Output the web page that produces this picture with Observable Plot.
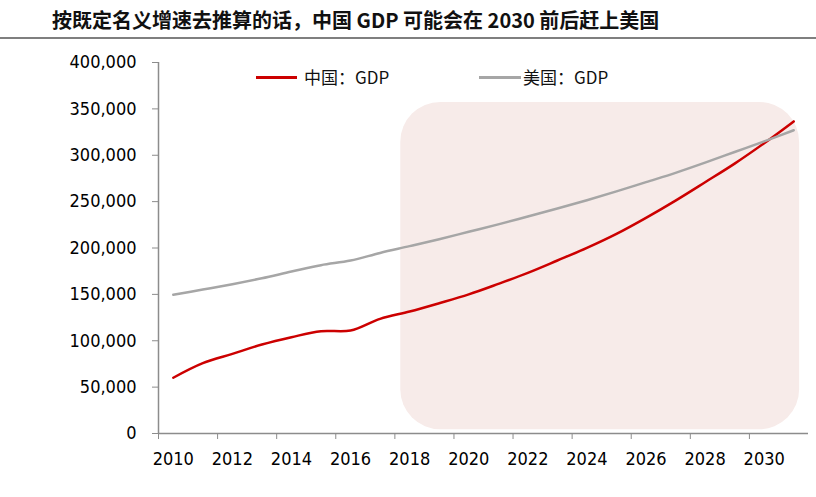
<!DOCTYPE html>
<html><head><meta charset="utf-8">
<script src="https://cdn.jsdelivr.net/npm/d3@7"></script>
<script src="https://cdn.jsdelivr.net/npm/@observablehq/plot@0.6"></script>
<style>
html,body{margin:0;padding:0;background:#fff}
body{width:816px;height:497px;overflow:hidden;position:relative}
#title{position:absolute;left:0;top:0;width:816px;height:37px;border-bottom:2px solid #7f7f7f}
#title span{position:absolute;left:52px;top:6px;font-family:"Noto Sans CJK SC";font-weight:bold;font-size:20px;line-height:27px;color:#111;white-space:nowrap}
#chart{position:absolute;left:0;top:40px}
.legline{position:absolute;height:3px}
.legtext{position:absolute;font-family:"Noto Sans CJK SC";font-size:17px;line-height:22px;color:#111;white-space:nowrap}
</style>
</head><body>
<div id="title"><span>按既定名义增速去推算的话，中国 GDP 可能会在 2030 前后赶上美国</span></div>
<div id="chart"></div>
<div id="legend"></div>
<script>
const years = [2010,2011,2012,2013,2014,2015,2016,2017,2018,2019,2020,2021,2022,2023,2024,2025,2026,2027,2028,2029,2030,2031];
const chinaGDP = [60100,75800,85900,95900,103800,110300,111000,123600,131500,140500,150000,161300,173200,186500,200100,215200,232500,251100,270900,291000,313000,336500];
const usGDP = [149500,155200,161000,167400,174600,181500,186500,194700,202000,209500,217500,225500,234000,242500,251500,261000,271000,281000,292000,303500,315000,327000];
const seriesNames = ["中国：GDP","美国：GDP"];
const seriesColors = ["#cc0000","#a6a6a6"];
const xTickLabels = [2010,2012,2014,2016,2018,2020,2022,2024,2026,2028,2030];
const yTicks = [0,50000,100000,150000,200000,250000,300000,350000,400000];
const xDomain = [2009.5, 2031.5];
const yDomain = [0, 400000];
const highlight = [{x1: 2017.7, x2: 2031.2, y1: 4000, y2: 357000}];

const rows = years.map((year, i) => ({year, value: chinaGDP[i], series: seriesNames[0]}))
  .concat(years.map((year, i) => ({year, value: usGDP[i], series: seriesNames[1]})));

const axisColor = "#8c8c8c";
const tickFont = "DejaVu Sans Condensed";

const chart = Plot.plot({
  width: 816, height: 457,
  marginTop: 22, marginBottom: 64, marginLeft: 158, marginRight: 8,
  style: {fontFamily: tickFont, fontSize: "18px", color: "#000", background: "transparent", overflow: "visible"},
  x: {domain: xDomain, axis: null},
  y: {domain: yDomain, axis: null},
  color: {domain: seriesNames, range: seriesColors},
  marks: [
    Plot.rect(highlight, {x1: "x1", x2: "x2", y1: "y1", y2: "y2", fill: "#f7ebe9", rx: 40}),
    Plot.ruleX([xDomain[0]], {stroke: axisColor, strokeWidth: 1.5}),
    Plot.ruleY([yDomain[0]], {stroke: axisColor, strokeWidth: 1.5}),
    Plot.axisY({ticks: yTicks, tickFormat: d3.format(","), tickSize: 6, tickPadding: 16, stroke: axisColor, fill: "#000", fontSize: 18}),
    Plot.axisX({ticks: xTickLabels.map(d => d - 0.5), tickSize: 6, tickFormat: () => "", stroke: axisColor}),
    Plot.axisX({ticks: xTickLabels, tickSize: 0, tickPadding: 19, tickFormat: d => String(d), fill: "#000", fontSize: 18}),
    Plot.line(rows, {x: "year", y: "value", z: "series", stroke: "series", strokeWidth: 2.5, curve: "catmull-rom"})
  ]
});
document.getElementById("chart").appendChild(chart);

const legendPos = [{line: [256, 297], text: 304}, {line: [479, 521], text: 523}];
const legend = document.getElementById("legend");
seriesNames.forEach((name, i) => {
  const l = document.createElement("div");
  l.className = "legline";
  l.style.left = legendPos[i].line[0] + "px";
  l.style.width = (legendPos[i].line[1] - legendPos[i].line[0]) + "px";
  l.style.top = "76px";
  l.style.background = seriesColors[i];
  legend.appendChild(l);
  const t = document.createElement("div");
  t.className = "legtext";
  t.style.left = legendPos[i].text + "px";
  t.style.top = "66px";
  t.textContent = name;
  legend.appendChild(t);
});
</script>
</body></html>
